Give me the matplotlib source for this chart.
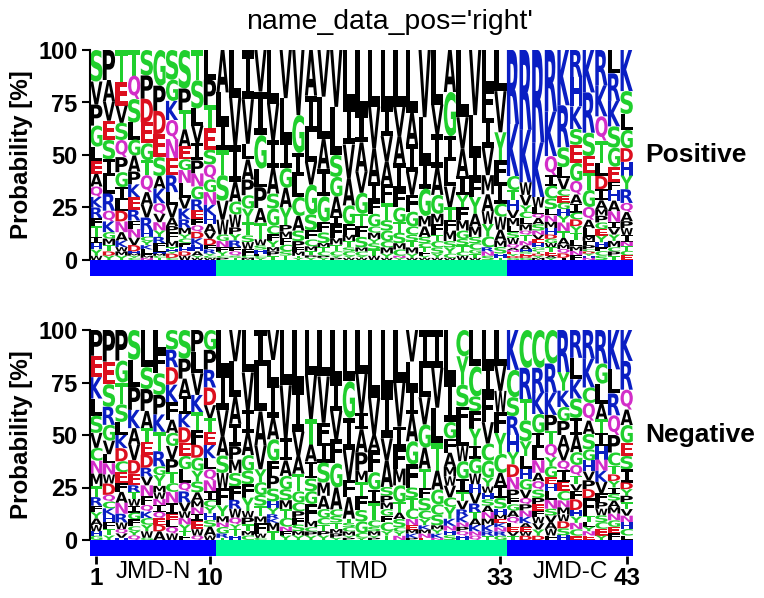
import matplotlib
matplotlib.use("Agg")
import matplotlib.pyplot as plt
from matplotlib.font_manager import FontProperties
from matplotlib.patches import PathPatch, Rectangle
from matplotlib.textpath import TextPath
from matplotlib.transforms import Affine2D

plt.rcParams["font.family"] = ["Liberation Sans", "DejaVu Sans"]

# Residues per alignment position, listed from the top of each stack downwards.
POS_LETTERS = [
    "SVPGLEAQKRFTIHYW", "PAVESILRQKGMTDY", "TEVSQPGILDNAKWMY", "TQSLGAPKERFNVDHMYC",
    "SPDEGTQAVRHCYKLFMN", "GPDESAKQVNYRFLHMCT", "SGKQNERLVAPFMTHYDC", "SPTAEGNLVKRMYCFHDW",
    "TSLVIPNGREFQDKHAYW", "LPTESQGNKHAVDFRYCW", "ALITSVWGNFYCP", "LVIAGWPYRFQST",
    "IVLAPGYTSWFCM", "VIGLPATWSHFCY", "LVIASGCFYMPT", "VLIGAYPMFCST",
    "VGILCASPFMTY", "AILVGSFCMTPY", "VLAIGFSMTCPY", "VLSGAIFMTCYP",
    "LIVAGFMTSCYW", "LIAVGTFSMCYW", "LVAIFGCMYSTW", "LIVAFTSGCMYW",
    "LVAIFGTSMCNY", "LAIVFGCSTMYW", "VLIGMASCTFYW", "LVIAGMFTCSYW",
    "AGILVTFMSYCW", "LVAIYFMGSTCW", "VLIFYAMSCGTW", "LFIVMAWYCRNS",
    "LVYFICWAMSHT", "RKCTHVMLSWQANEYDG", "RKWVYCLMQTNAHSEDG", "RKWLQASNVEHGCTDYM",
    "RKQICSLNMHDGWTEAY", "KRSLVCEGHYNTAMQDI", "RHKSEGQAICDYTLMNF", "KRSETGQALMFPCDYHN",
    "RKQTLDIAMPGEYHFCS", "LRKSGEFHANIVYMCPT", "KSLGDHYRQAPWINTCE",
]
POS_VALUES = [
    [15, 11, 10, 10, 7, 6, 6, 5, 5, 5, 4, 5, 3, 3, 3, 2],
    [14, 10, 9, 9, 9, 8, 8, 8, 5, 5, 3, 3, 3, 2, 2],
    [15, 11, 8, 8, 8, 7, 7, 6, 5, 5, 5, 4, 3, 2, 2, 2],
    [12, 11, 11, 8, 7.5, 7.5, 6, 6, 6, 5, 4, 4, 3.5, 3, 1, 1, 1, 1],
    [12, 11, 11, 10, 8, 7, 8, 6, 6, 6, 3, 2, 2, 2, 2, 1, 1, 1],
    [17, 12, 11, 11, 9, 6, 7, 5, 4, 4, 3, 3, 2, 2, 1, 1, 1, 1],
    [14, 10, 9, 9, 9, 8, 8, 6, 6, 4, 3, 4, 3, 1, 1, 1, 2, 1],
    [18, 10, 9, 8, 6, 5, 6, 7, 5, 5, 4, 3, 2, 2, 2, 2, 2, 2],
    [14, 13, 8, 8, 8, 6, 6, 6, 5, 4, 3, 3, 3, 3, 3, 2, 1, 1],
    [14, 12, 11, 10, 7, 7, 6, 6, 5, 4, 4, 3, 3, 2, 2, 1, 1, 1],
    [20, 14, 13, 12, 12, 9, 7, 3, 3, 2, 2, 1, 1],
    [22, 22, 17, 9, 6, 6, 3, 3, 3, 2, 2, 1, 1],
    [22, 20, 7, 9, 7, 6, 6, 6, 3, 3, 3, 1, 1],
    [20, 21, 16, 9, 10, 7, 8, 3, 2, 2, 1, 1, 1],
    [25, 17, 13, 12, 7, 8, 4, 3, 3, 2, 2, 2],
    [22, 19, 13, 9, 9, 8, 3, 3, 3, 3, 2, 2],
    [31, 18, 11, 10, 9, 7, 5, 3, 2, 2, 1, 1],
    [20, 16, 13, 10, 13, 7, 4, 3, 2, 2, 1, 1],
    [22, 20, 14, 13, 12, 5, 5, 2, 2, 2, 1, 1],
    [26, 22, 10, 9, 9, 4, 6, 3, 3, 2, 1, 1],
    [26, 19, 16, 13, 9, 5, 3, 3, 2, 2, 1, 1],
    [30, 14, 14, 10, 10, 6, 5, 5, 2, 2, 1, 1],
    [27, 20, 16, 9, 6, 6, 3, 3, 2, 3, 3, 2],
    [27, 14, 12, 11, 9, 8, 5, 5, 3, 3, 2, 1],
    [27, 14, 13, 13, 8, 7, 5, 5, 3, 3, 1, 1],
    [30, 15, 13, 11, 8, 7, 4, 3, 3, 3, 2, 1],
    [32, 21, 13, 13, 5, 5, 3, 2, 2, 2, 1, 1],
    [26, 14, 16, 13, 9, 5, 5, 3, 3, 3, 2, 1],
    [20, 21, 12, 12, 10, 6, 5, 5, 3, 3, 2, 1],
    [32, 15, 13, 9, 6, 6, 5, 4, 3, 3, 2, 2],
    [31, 18, 13, 8, 8, 6, 5, 3, 3, 2, 2, 1],
    [18, 14, 14, 13, 9, 8, 6, 6, 5, 2, 2, 2],
    [19, 19, 13, 10, 10, 6, 6, 5, 3, 3, 2, 1],
    [37, 26, 7, 5, 5, 4, 4, 3, 3, 3, 2, 1, 1, 1, 1, 1, 1],
    [38, 25, 6, 5, 3, 3, 3, 3, 2, 3, 2, 2, 1, 1, 1, 1, 1],
    [44, 26, 5, 3, 2, 3, 3, 2, 2, 2, 2, 1, 1, 1, 1, 1, 1],
    [29, 21, 9, 5, 6, 5, 3, 3, 3, 3, 2, 2, 2, 2, 2, 1, 1],
    [25, 19, 9, 5, 5, 3, 3, 3, 3, 3, 4, 3, 3, 2, 2, 2, 1],
    [12, 13, 10, 7, 8, 8, 6, 4, 4, 3, 3, 3, 3, 3, 2, 2, 2],
    [20, 19, 11, 8, 8, 8, 6, 4, 4, 2, 2, 2, 1, 1, 1, 1, 1],
    [16, 14, 11, 10, 6, 6, 5, 4, 3, 3, 3, 3, 3, 2, 2, 2, 2],
    [11, 13, 12, 10, 9, 7, 4, 5, 5, 5, 3, 3, 3, 3, 2, 2, 2],
    [18, 10, 7, 8, 6, 6, 6, 6, 4, 4, 3, 3, 3, 2, 2, 2, 2],
]
NEG_LETTERS = [
    "PEKLSVCNMTRFYAWHG", "PESRGVLNWDQCKHFTY", "PGTSLKDCEFANRWQVH", "SLPKAVDERTWIGFCYQ",
    "LSPATEDRVNFQKCYWG", "LFSPKTRGYMWNIQEDA", "SRDKFAGVPTCNIELQW", "SPAIKDEGLQRVWNYTF",
    "PLVKTFDGYSAMNIEWQ", "GPRDVTEKLQNICYHSAW", "LIVASWFYMNGRT", "VLAIPMSFRWQYTH",
    "LVIAGSFYWPTMC", "ILAVYGSTMFWC", "VLIAGFPSHYRKMT", "LVIAGSMTCNFY",
    "LIVATGCPFSMY", "LVTAISGFMCPY", "LVFISMAGCTPY", "LIVFGACSTMPY",
    "LGIVFATSCMYP", "LVIAPMTFSGCY", "LVAFGITCSMYP", "LIVASPMGFCYT",
    "LVIFMGTASCYN", "VLIAGFSTCNEMKP", "ILVGATFSCYKMNE", "IVLTAGCSMYKN",
    "LIGFAMWVCYKNHS", "CYSFLWGITVRKNPQH", "LCSFYIGWHVRTAKNQ", "LIFVCGYWHSANMKRT",
    "LVWFYCAISHMEKNRG", "KCSRHYDNPFGAQLEVT", "CRTSYLHGVQPNKAEWD", "CRKGILNAQSPEFWVYD",
    "CRKPTQYGEHLNSVAWF", "RYKGPAVQIECNMWDSH", "RLKSIAGQTVFDHYNCE", "RKCQASGHVPDFTLYNE",
    "RGLATIHNKVFPWSCEY", "KLRQPCTDYISAMNGEF", "KRQAGESIDYPTVNHCL",
]
NEG_VALUES = [
    [12, 10, 10, 8, 8, 7, 6, 6, 6, 5, 4, 3, 3, 3, 3, 2, 2],
    [14, 10, 10, 8, 7, 6, 4, 5, 4, 5, 3, 3, 3, 3, 3, 3, 2],
    [14, 10, 10, 8, 6, 6, 6, 5, 5, 4, 5, 5, 4, 3, 2, 2, 1],
    [13, 12, 10, 8, 7, 7, 6, 5, 3, 3, 3, 3, 3, 3, 2, 2, 2],
    [17, 10, 10, 8, 6, 6, 6, 4, 4, 5, 4, 3, 3, 3, 3, 3, 1],
    [10, 10, 10, 9, 8, 9, 7, 4, 5, 3, 3, 3, 3, 3, 3, 3, 4],
    [9, 8, 8, 8, 8, 6, 6, 6, 6, 5, 4, 5, 5, 3, 3, 3, 3],
    [13, 9, 8, 8, 6, 7, 6, 6, 6, 4, 5, 4, 3, 3, 3, 2, 2],
    [10, 10, 10, 8, 8, 7, 6, 6, 5, 5, 4, 3, 3, 3, 4, 3, 2],
    [9, 9, 8, 8, 6, 6, 6, 6, 5, 5, 5, 4, 3, 3, 3, 3, 4, 2],
    [19, 18, 12, 9, 8, 7, 8, 5, 3, 2, 3, 2, 1],
    [14, 16, 12, 10, 6, 6, 6, 6, 4, 4, 3, 2, 3, 2],
    [19, 17, 10, 10, 7, 6, 6, 6, 3, 3, 3, 2, 2],
    [17, 21, 16, 11, 6, 6, 5, 5, 3, 5, 2, 1],
    [14, 10, 17, 10, 10, 7, 6, 6, 3, 3, 2, 2, 4, 4],
    [25, 24, 10, 7, 6, 5, 4, 4, 4, 2, 2, 2],
    [26, 20, 11, 8, 8, 5, 4, 3, 3, 3, 2, 2],
    [21, 21, 12, 8, 8, 6, 6, 8, 3, 2, 2, 2],
    [21, 21, 9, 9, 9, 6, 6, 4, 3, 3, 2, 2],
    [23, 14, 13, 11, 11, 10, 3, 3, 3, 2, 2, 1],
    [24, 17, 15, 14, 8, 10, 2, 2, 2, 2, 1, 1],
    [19, 17, 7, 10, 8, 5, 6, 6, 5, 5, 2, 1],
    [31, 17, 7, 10, 8, 6, 8, 3, 2, 2, 1, 1],
    [28, 21, 10, 12, 4, 3, 3, 3, 3, 4, 2, 2],
    [25, 21, 10, 10, 8, 8, 5, 3, 4, 2, 2, 2],
    [15, 13, 12, 13, 11, 11, 5, 5, 5, 3, 2, 2, 2, 1],
    [18, 14, 13, 11, 10, 9, 5, 6, 4, 3, 2, 2, 2, 1],
    [18, 19, 17, 13, 9, 7, 5, 5, 2, 2, 2, 1],
    [21, 18, 7, 6, 6, 4, 4, 5, 4, 5, 3, 2, 2, 2],
    [12, 13, 10, 9, 9, 7, 8, 6, 4, 4, 3, 3, 2, 2, 2, 2],
    [17, 14, 7, 8, 8, 6, 7, 5, 4, 5, 4, 3, 3, 3, 2, 2],
    [17, 13, 13, 10, 8, 8, 4, 3, 3, 3, 3, 3, 3, 3, 2, 2],
    [17, 12, 10, 10, 10, 9, 6, 6, 5, 3, 2, 2, 2, 2, 2, 2],
    [19, 13, 9, 9, 8, 6, 6, 6, 4, 3, 3, 3, 3, 2, 2, 2, 2],
    [18, 15, 10, 10, 7, 6, 5, 5, 4, 3, 3, 3, 3, 2, 2, 2, 2],
    [18, 12, 10, 9, 7, 6, 6, 4, 4, 4, 3, 3, 3, 3, 3, 3, 2],
    [15, 13, 10, 7, 6, 6, 4, 5, 3, 3, 4, 4, 3, 3, 3, 3, 2],
    [18, 8, 7, 6, 6, 6, 5, 4, 5, 4, 4, 3, 3, 3, 3, 3, 2],
    [13, 10, 9, 9, 8, 8, 6, 5, 4, 3, 4, 5, 3, 3, 3, 3, 2],
    [13, 13, 7, 8, 6, 7, 5, 5, 4, 4, 4, 8, 3, 2, 2, 2, 2],
    [15, 9, 9, 7, 6, 6, 6, 5, 5, 5, 4, 3, 3, 3, 3, 3, 2],
    [18, 11, 10, 9, 8, 6, 4, 3, 3, 3, 3, 3, 3, 3, 3, 3, 3],
    [14, 13, 9, 7, 8, 6, 6, 6, 3, 3, 3, 3, 3, 3, 3, 3, 2],
]

PANEL_NAMES = ["Positive", "Negative"]
YTICKS = [0, 25, 50, 75, 100]
XTICKS = [1, 10, 33, 43]
PARTS = [("JMD-N", 1, 10, "#0000ff"), ("TMD", 11, 33, "#00fa9a"), ("JMD-C", 34, 43, "#0000ff")]

GROUP_COLORS = {}
for residues, color in [("AFILMPVW", "black"), ("CGSTY", "#20cf2d"),
                        ("HKR", "#0a1ec3"), ("DE", "#dc0f1e"), ("NQ", "#d22dc8")]:
    for residue in residues:
        GROUP_COLORS[residue] = color

W, H = 764, 598
LEFT, RIGHT = 90, 633
BAR_H = 16
LETTER_FONT = FontProperties(family="DejaVu Sans", weight="bold")
SERIF_I_FONT = FontProperties(family="DejaVu Sans Mono", weight="bold")
GLYPHS = {r: TextPath((0, 0), r, size=1, prop=SERIF_I_FONT if r == "I" else LETTER_FONT)
          for r in GROUP_COLORS}


def px_axes(fig, x0, x1, y_top, y_bottom):
    return fig.add_axes([x0 / W, 1 - y_bottom / H, (x1 - x0) / W, (y_bottom - y_top) / H])


def draw_stack(ax, pos, letters, values):
    """Stack one column of scaled glyphs so that it fills 0-100 %."""
    total = sum(values)
    top = 100.0
    for residue, value in zip(letters, values, strict=True):
        height = value / total * 100
        glyph = GLYPHS[residue]
        box = glyph.get_extents()
        to_cell = (Affine2D().translate(-box.x0, -box.y0)
                   .scale(0.97 / box.width, height / box.height)
                   .translate(pos - 0.485, top - height))
        ax.add_patch(PathPatch(to_cell.transform_path(glyph), fc=GROUP_COLORS[residue],
                               ec="none", lw=0))
        top -= height


fig = plt.figure(figsize=(W / 100, H / 100), dpi=100)
panels = [(50, POS_LETTERS, POS_VALUES), (330, NEG_LETTERS, NEG_VALUES)]

for idx, (y_top, letters, values) in enumerate(panels):
    ax = px_axes(fig, LEFT, RIGHT, y_top, y_top + 210)
    ax.set_xlim(0.5, 43.5)
    ax.set_ylim(0, 100)
    for pos, (col_letters, col_values) in enumerate(zip(letters, values, strict=True), start=1):
        draw_stack(ax, pos, col_letters, col_values)
    for side in ("top", "right", "bottom"):
        ax.spines[side].set_visible(False)
    ax.spines["left"].set_linewidth(1.5)
    ax.set_xticks([])
    ax.set_yticks(YTICKS)
    ax.tick_params(axis="y", length=6, width=1.5, pad=3)
    for label in ax.get_yticklabels():
        label.set_fontsize(17)
        label.set_fontweight("bold")
    ax.set_ylabel("Probability [%]", fontsize=17.4, fontweight="bold", labelpad=4)

    fig.text(645 / W, 1 - (y_top + 105) / H, PANEL_NAMES[idx], fontsize=19, fontweight="bold",
             ha="left", va="center")

    bar = px_axes(fig, LEFT, RIGHT, y_top + 210, y_top + 210 + BAR_H)
    bar.set_xlim(0.5, 43.5)
    bar.set_ylim(0, 1)
    for name, start, end, color in PARTS:
        bar.add_patch(Rectangle((start - 0.5, 0), end - start + 1, 1, fc=color, ec="none"))
    for side in bar.spines:
        bar.spines[side].set_visible(False)
    bar.set_yticks([])
    if idx == 1:
        bar.set_xticks(XTICKS)
        bar.tick_params(axis="x", length=6, width=2, pad=2)
        for label in bar.get_xticklabels():
            label.set_fontsize(17.5)
            label.set_fontweight("bold")
        for name, start, end, color in PARTS:
            bar.text((start + end) / 2, -0.3, name, fontsize=17.5, ha="center", va="top")
    else:
        bar.set_xticks([])

fig.text(390 / W, 1 - 22 / H, "name_data_pos='right'", fontsize=20.4, ha="center", va="center")
fig.savefig("out.png", dpi=100)
